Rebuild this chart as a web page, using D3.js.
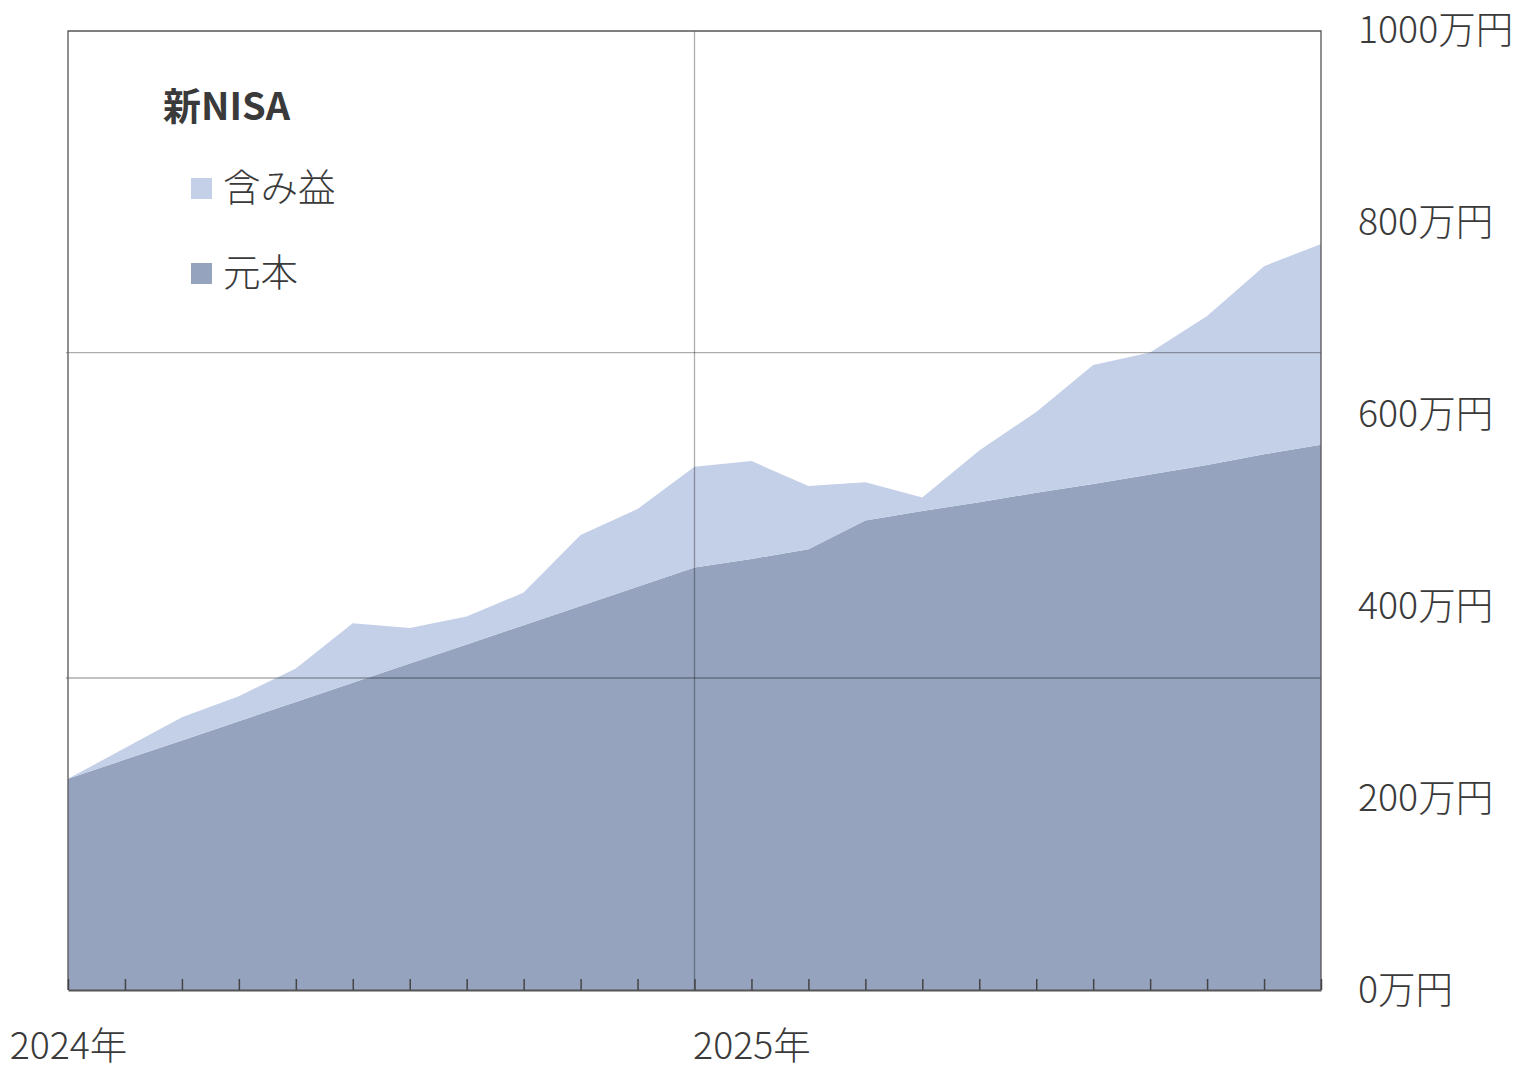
<!DOCTYPE html>
<html>
<head>
<meta charset="utf-8">
<script src="https://cdn.jsdelivr.net/npm/d3@7"></script>
<style>
  body { margin: 0; background: #fff; }
  text { font-family: "Noto Sans CJK JP", "Noto Sans", sans-serif; fill: #3a3a3a; }
</style>
</head>
<body>
<div id="chart"></div>
<script>
// monthly points, Jan 2024 .. Nov 2025 (units: 万円)
var months = d3.range(23);
var principal = [220, 240, 260, 280, 300, 320, 340, 360, 380, 400, 420, 440,
                 449, 459, 489, 499, 508, 518, 527, 537, 547, 558, 568];
var gain = [0, 12, 24, 26, 35, 62, 37, 29, 34, 74, 81, 105,
            102, 66, 40, 14, 54, 84, 124, 127, 155, 196, 209];
var yTicks = [0, 200, 400, 600, 800, 1000];
var yearLabels = [{ i: 0, label: "2024年" }, { i: 12, label: "2025年" }];
var gridValues = [325, 664];
var gridMonth = 11;
var seriesNames = ["含み益", "元本"];

var color = ["#c4cfe8", "#96a3be"];

var w = 1518;
var h = 1080;
var pl = 68, pr = 1321, pt = 30, pb = 990;
var fs = "37.5px";

var svg = d3.select("#chart").append("svg").attr("width", w).attr("height", h);

const xScale = d3.scalePoint().domain(months).range([pl, pr]);
const yScale = d3.scaleLinear().domain([0, 1000]).range([pb, pt]);

var rows = months.map((m) => ({ m: m, principal: principal[m], gain: gain[m] }));
var stack = d3.stack().keys(["principal", "gain"])(rows);

const area = d3
  .area()
  .x((d) => xScale(d.data.m))
  .y0((d) => yScale(d[0]))
  .y1((d) => yScale(d[1]));

svg
  .selectAll("path.area")
  .data(stack)
  .enter()
  .append("path")
  .attr("class", "area")
  .attr("d", area)
  .style("fill", (d) => (d.key == "gain" ? color[0] : color[1]));

// grid
svg
  .selectAll("line.hgrid")
  .data(gridValues)
  .enter()
  .append("line")
  .attr("x1", pl - 2)
  .attr("x2", pr)
  .attr("y1", (d) => yScale(d))
  .attr("y2", (d) => yScale(d))
  .style("stroke", "#000")
  .style("stroke-opacity", 0.32)
  .style("stroke-width", 1.3);

svg
  .append("line")
  .attr("x1", xScale(gridMonth))
  .attr("x2", xScale(gridMonth))
  .attr("y1", pt + 1)
  .attr("y2", pb)
  .style("stroke", "#000")
  .style("stroke-opacity", 0.32)
  .style("stroke-width", 1.3);

// frame
svg
  .append("path")
  .attr("d", `M${pl},${pb}V${pt + 1}H${pr}V${pb}`)
  .style("fill", "none")
  .style("stroke", "#555")
  .style("stroke-width", 1.3);

// x axis: inner ticks
const xAxis = d3.axisBottom(xScale).tickSizeInner(-11).tickSizeOuter(0).tickFormat("");
var gx = svg.append("g").attr("transform", `translate(0,${pb})`).call(xAxis);
gx.select(".domain").style("stroke", "#555").style("stroke-width", 2.2);
gx.selectAll(".tick line").style("stroke", "#444").style("stroke-width", 1.5);

const xLabelAxis = d3
  .axisBottom(xScale)
  .tickValues(yearLabels.map((d) => d.i))
  .tickSize(0)
  .tickPadding(42)
  .tickFormat((d) => yearLabels.find((y) => y.i == d).label);
var gxl = svg.append("g").attr("transform", `translate(0,${pb})`).call(xLabelAxis);
gxl.select(".domain").remove();
gxl.selectAll("text").style("font-size", fs).style("font-weight", 300).attr("fill", null);

// y axis on the right
const yAxis = d3
  .axisRight(yScale)
  .tickValues(yTicks)
  .tickSize(0)
  .tickPadding(37)
  .tickFormat((d) => d + "万円");
var gy = svg.append("g").attr("transform", `translate(${pr},0)`).call(yAxis);
gy.select(".domain").remove();
gy.selectAll("text").style("font-size", fs).style("font-weight", 300).attr("fill", null);

// legend
svg
  .append("text")
  .attr("x", 163)
  .attr("y", 120)
  .style("font-size", "38px")
  .style("font-weight", 700)
  .text("新NISA");

var legend = svg
  .selectAll("g.legend")
  .data(seriesNames)
  .enter()
  .append("g")
  .attr("class", "legend")
  .attr("transform", (d, i) => `translate(191,${178 + 85 * i})`);

legend
  .append("rect")
  .attr("width", 21)
  .attr("height", 21)
  .style("fill", (d, i) => color[i]);

legend
  .append("text")
  .attr("x", 32)
  .attr("y", 23)
  .style("font-size", fs)
  .style("font-weight", 300)
  .text((d) => d);
</script>
</body>
</html>
